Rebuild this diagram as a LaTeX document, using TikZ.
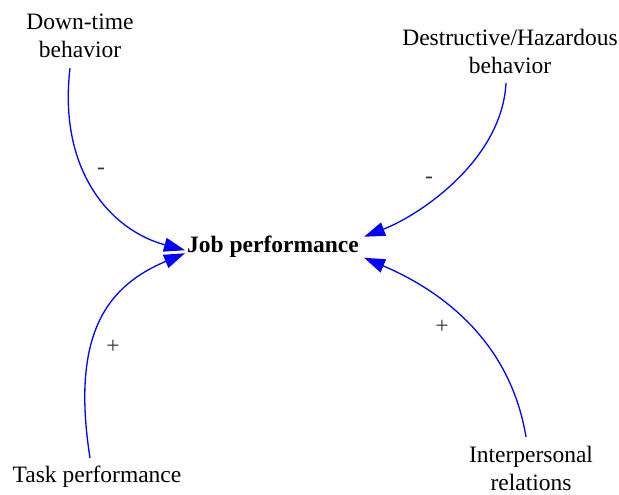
\documentclass[tikz,border=0pt]{standalone}
\usepackage{fontspec}
\setmainfont{Liberation Serif}
\usetikzlibrary{arrows.meta}
\tikzset{
  lbl/.style={inner sep=0pt, align=center, font=\fontsize{23.5bp}{28bp}\selectfont},
  sgn/.style={inner sep=0pt, anchor=base, text=black!80, font=\fontsize{23.5bp}{28bp}\selectfont},
  link/.style={draw=blue, line width=1.3bp, -{Triangle[length=21bp,width=14bp]}, shorten >=0pt}
}
\begin{document}
\begin{tikzpicture}[x=1bp,y=-1bp]
\useasboundingbox (0,0) rectangle (619,495);
\node[lbl, anchor=base] (jp) at (273,252) {\textbf{Job performance}};
\node[lbl, anchor=north] (dt) at (80,14) {Down-time\\behavior};
\node[lbl, anchor=north] (dh) at (510,29) {Destructive/Hazardous\\behavior};
\node[lbl, anchor=north] (tp) at (97,466) {Task performance};
\node[lbl, anchor=north] (ir) at (531,446) {Interpersonal\\relations};

\draw[link] ([xshift=-10bp,yshift=-10bp]dt.south) .. controls (58,170) and (110,230) .. ([xshift=-2bp,yshift=-4bp]jp.west);
\draw[link] ([xshift=-4bp,yshift=-9bp]dh.south) .. controls (502,160) and (420,215) .. ([xshift=5bp,yshift=9.5bp]jp.east);
\draw[link] ([xshift=-7bp,yshift=8bp]tp.north) .. controls (70,330) and (110,285) .. ([xshift=-2bp,yshift=-7bp]jp.west);
\draw[link] ([xshift=-5bp,yshift=9bp]ir.north) .. controls (510,340) and (440,290) .. ([xshift=5bp,yshift=-11.5bp]jp.east);

\node[sgn] (s1) at (101,175) {-};
\node[sgn] (s2) at (429,184) {-};
\node[sgn] (s3) at (113,353) {+};
\node[sgn] (s4) at (442,333) {+};
\end{tikzpicture}
\end{document}
